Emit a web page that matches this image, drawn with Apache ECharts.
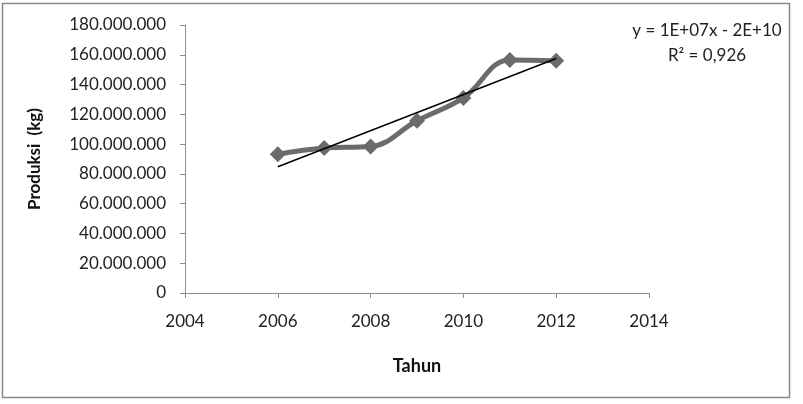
<!DOCTYPE html>
<html><head><meta charset="utf-8">
<script src="https://cdn.jsdelivr.net/npm/echarts@6/dist/echarts.min.js"></script>
<style>html,body{margin:0;padding:0;background:#fff}#c{width:803px;height:404px}</style>
</head><body><div id="c"></div>
<script>
const years = [2006, 2007, 2008, 2009, 2010, 2011, 2012];
const produksi = [93200000, 97400000, 98400000, 115700000, 131000000, 156500000, 156000000];
const xTicks = [2004, 2006, 2008, 2010, 2012, 2014];
const yTicks = [0, 20000000, 40000000, 60000000, 80000000, 100000000, 120000000, 140000000, 160000000, 180000000];
const equationLines = ['y = 1E+07x - 2E+10', 'R² = 0,926'];

// least-squares trend line from the data
const n = years.length;
const mx = years.reduce((a, b) => a + b, 0) / n;
const my = produksi.reduce((a, b) => a + b, 0) / n;
let sxy = 0, sxx = 0;
for (let i = 0; i < n; i++) { sxy += (years[i] - mx) * (produksi[i] - my); sxx += (years[i] - mx) ** 2; }
const slope = sxy / sxx, icpt = my - slope * mx;
const trend = [[years[0], icpt + slope * years[0]], [years[n - 1], icpt + slope * years[n - 1]]];

const fmt = v => String(v).replace(/\B(?=(\d{3})+(?!\d))/g, '.');
const font = 'Lato, "Open Sans", sans-serif';
const chart = echarts.init(document.getElementById('c'));
chart.setOption({
  animation: false,
  grid: { left: 185, right: 154, top: 25, bottom: 111 },
  xAxis: {
    type: 'value', min: xTicks[0], max: xTicks[xTicks.length - 1], interval: 2,
    splitLine: { show: false },
    axisLine: { lineStyle: { color: '#8c8c8c' } },
    axisTick: { show: true, length: 5, lineStyle: { color: '#8c8c8c' } },
    axisLabel: { color: '#222', fontSize: 17, fontFamily: font, margin: 20, formatter: v => String(v) },
    name: 'Tahun', nameLocation: 'middle', nameGap: 64,
    nameTextStyle: { color: '#111', fontSize: 18, fontWeight: 'bold', fontFamily: font }
  },
  yAxis: {
    type: 'value', min: yTicks[0], max: yTicks[yTicks.length - 1], interval: 20000000,
    splitLine: { show: false },
    axisLine: { show: true, lineStyle: { color: '#8c8c8c' } },
    axisTick: { show: true, length: 5, lineStyle: { color: '#8c8c8c' } },
    axisLabel: { color: '#222', fontSize: 17, fontFamily: font, margin: 19, formatter: fmt },
    name: 'Produksi  (kg)', nameLocation: 'middle', nameGap: 142, nameRotate: 90,
    nameTextStyle: { color: '#111', fontSize: 17, fontWeight: 'bold', fontFamily: font }
  },
  series: [
    {
      type: 'line', data: years.map((y, i) => [y, produksi[i]]), smooth: 0.4,
      symbol: 'diamond', symbolSize: 16,
      lineStyle: { color: '#6b6b6b', width: 5 },
      itemStyle: { color: '#6b6b6b' }, z: 2
    },
    {
      type: 'line', data: trend, symbol: 'none',
      lineStyle: { color: '#000', width: 1.5 }, z: 3
    }
  ],
  graphic: [
    { type: 'rect', shape: { x: 2.5, y: 3.5, width: 787, height: 394 }, style: { fill: 'none', stroke: '#888', lineWidth: 1.5 } },
    { type: 'text', x: 707, y: 31, style: { text: equationLines[0], textAlign: 'center', textVerticalAlign: 'middle', fontSize: 17, fontFamily: font, fill: '#222' } },
    { type: 'text', x: 707, y: 56, style: { text: equationLines[1], textAlign: 'center', textVerticalAlign: 'middle', fontSize: 17, fontFamily: font, fill: '#222' } }
  ]
});
</script></body></html>
